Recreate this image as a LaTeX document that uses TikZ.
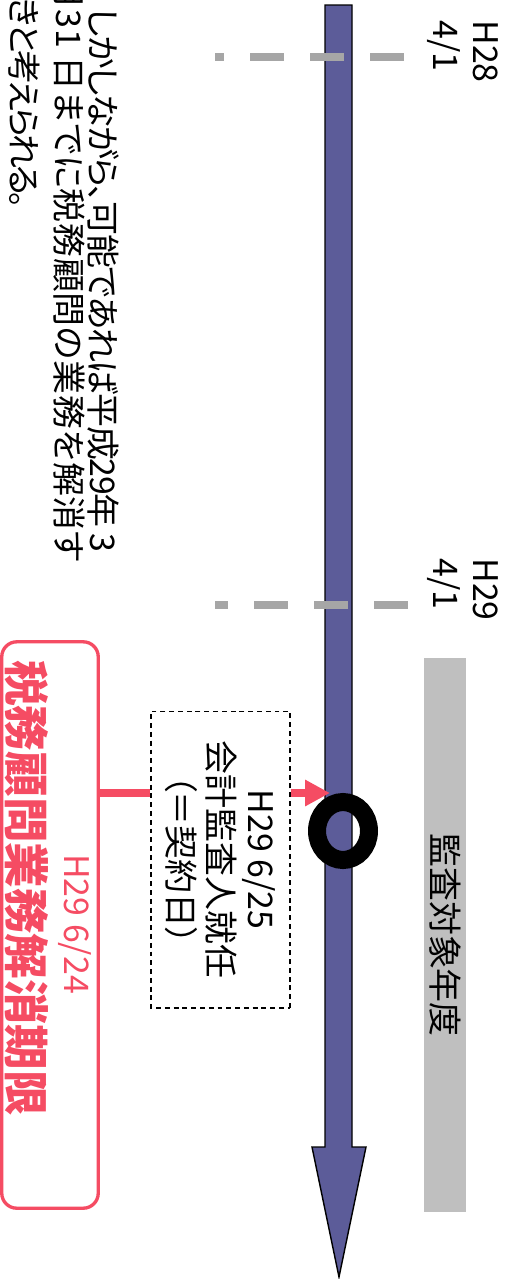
\documentclass[tikz,border=0pt]{standalone}
\usepackage{fontspec}
\setmainfont{Noto Sans CJK JP}[RawFeature=+palt]
\usepackage{tikz}
\usetikzlibrary{arrows.meta,positioning,shapes.geometric}
\definecolor{axisblue}{HTML}{5C5C99}
\definecolor{limitred}{HTML}{F54C63}
\definecolor{cutgray}{HTML}{A6A6A6}
\definecolor{bargray}{HTML}{BFBFBF}
\tikzset{font=\fontsize{19.3}{22.7}\selectfont}
\tikzset{every node/.append style={rotate=-90, inner sep=0pt}}
\tikzset{
  noteline/.style={anchor=base west},
  cutline/.style={cutgray, line width=4.5pt, dash pattern=on 0.68cm off 0.52cm},
  limitline/.style={limitred, line width=4.5pt},
  periodbar/.style={fill=bargray, minimum width=11.08cm, minimum height=0.84cm},
  contractbox/.style={draw, line width=0.6pt, dash pattern=on 2.8pt off 2.2pt,
    minimum width=5.94cm, minimum height=2.78cm, align=center},
  limitbox/.style={draw=limitred, line width=1.9pt, rounded corners=0.3cm,
    minimum width=11.33cm, minimum height=1.93cm}
}

\begin{document}
\begin{tikzpicture}[x=0.02cm, y=-0.02cm]
  \useasboundingbox (0,0) rectangle (510,1279);
  \clip (0,0) rectangle (510,1279);

  % note text, cut at the top edge
  \node[noteline] (note1) at (91,8)
    {\addfontfeatures{LetterSpace=-4}しかしながら、可能であれば平成29年 3};
  \node[noteline] (note2) at (56,-25)
    {\addfontfeatures{LetterSpace=2.2}月31 日までに税務顧問の業務を解消す};
  \node[noteline] (note3) at (11,-34)
    {\addfontfeatures{LetterSpace=-10}べきと考えられる。};

  % time axis
  \draw[fill=axisblue, line width=0.8pt] (325,5) -- (352,5) -- (352,1147) -- (366,1147)
    -- (339,1277) -- (312,1147) -- (325,1147) -- cycle;

  \draw[cutline] (404,57) -- (215,57);
  \draw[cutline] (408,605) -- (215,605);
  \node[anchor=west, align=left] (start28) at (463,20) {H28\\4/1};
  \node[anchor=west, align=left] (start29) at (463,558) {H29\\4/1};

  \node[periodbar] (period) at (445,935) {監査対象年度};

  \coordinate (hit) at (330,793);
  \node[contractbox] (contract) at (220.5,859.5) {H29 6/25\\会計監査人就任\\（＝契約日）};
  \node[limitbox] (limit) at (50,925) {};
  \node[text=limitred] (limitdate) at (75,924) {H29 6/24};
  \node[text=limitred, font=\bfseries\fontsize{25.9}{30}\selectfont] (limittitle) at (27,888)
    {税務顧問業務解消期限};

  \draw[limitline] (limit.north |- hit) -- (contract.south |- hit);
  \draw[limitline, -{Triangle[length=0.5cm, width=0.5cm]}] (contract.north |- hit) -- (hit);

  \node[ellipse, draw, line width=0.36cm, minimum width=1.16cm, minimum height=1.04cm] (ring) at (343,831) {};
\end{tikzpicture}
\end{document}
